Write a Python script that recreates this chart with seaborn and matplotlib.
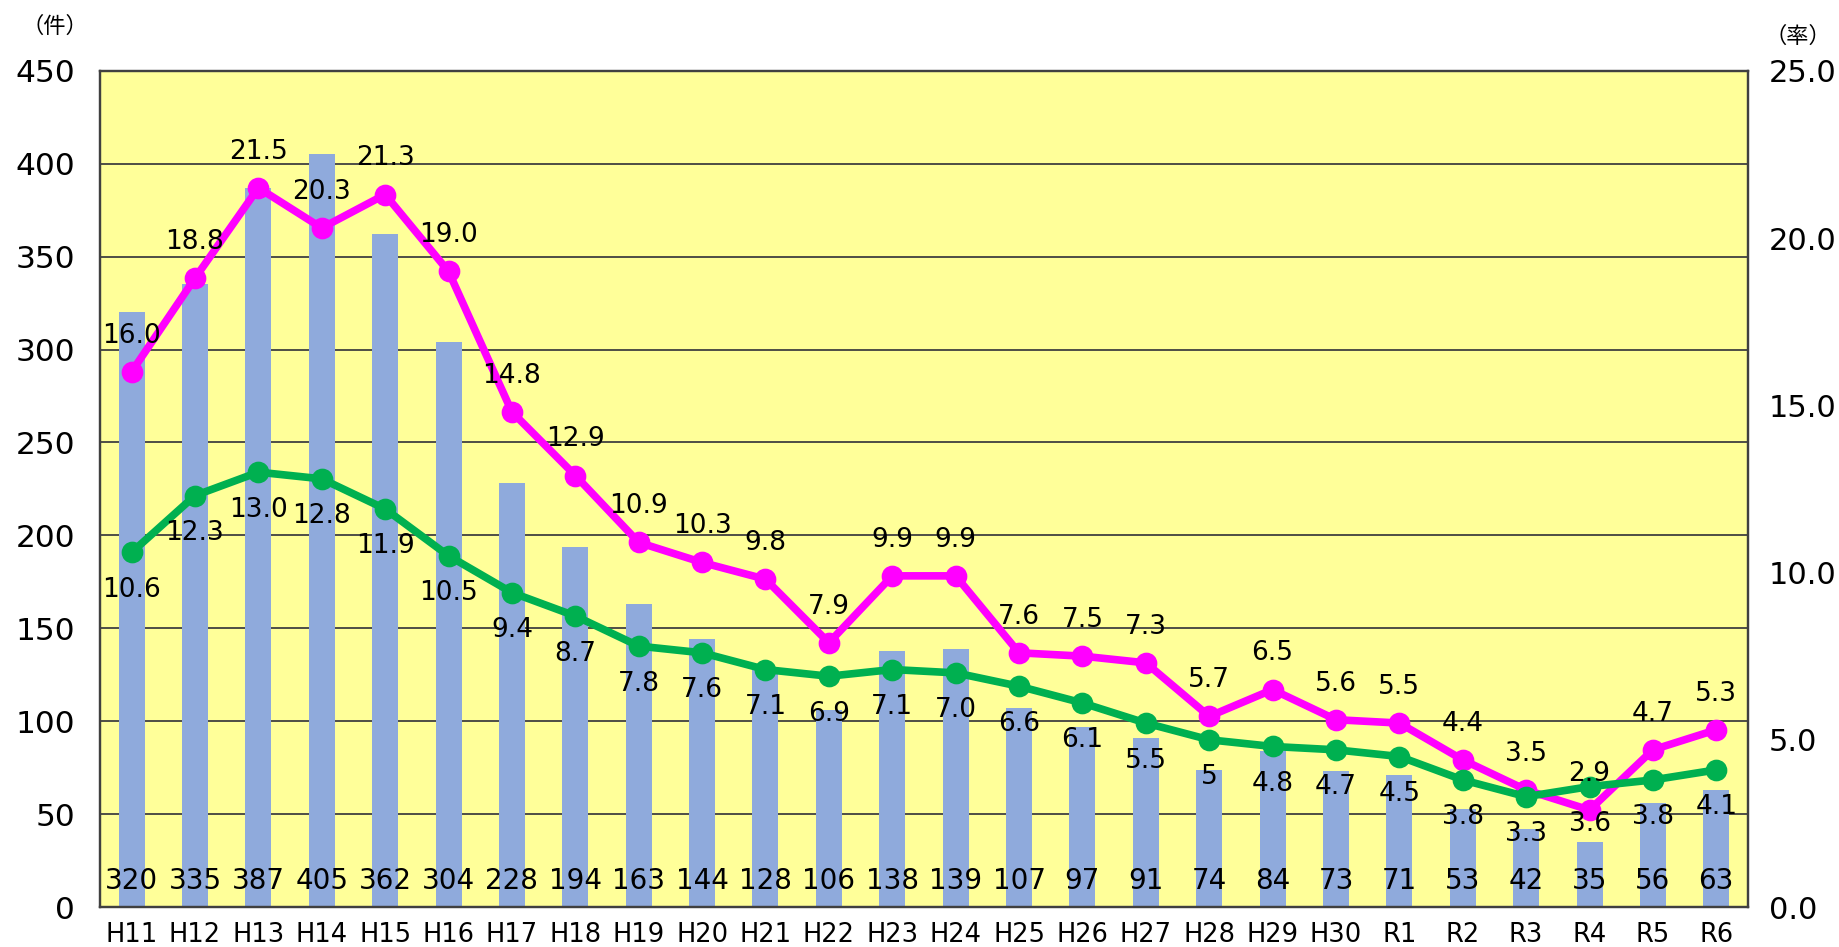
import matplotlib
matplotlib.use("Agg")
import matplotlib.pyplot as plt
import seaborn as sns
import pandas as pd

# ---- data ----
years = ['H11', 'H12', 'H13', 'H14', 'H15', 'H16', 'H17', 'H18', 'H19', 'H20',
         'H21', 'H22', 'H23', 'H24', 'H25', 'H26', 'H27', 'H28', 'H29', 'H30',
         'R1', 'R2', 'R3', 'R4', 'R5', 'R6']
counts = [320, 335, 387, 405, 362, 304, 228, 194, 163, 144, 128, 106, 138, 139,
          107, 97, 91, 74, 84, 73, 71, 53, 42, 35, 56, 63]
rate_pink = [16.0, 18.8, 21.5, 20.3, 21.3, 19.0, 14.8, 12.9, 10.9, 10.3, 9.8, 7.9,
             9.9, 9.9, 7.6, 7.5, 7.3, 5.7, 6.5, 5.6, 5.5, 4.4, 3.5, 2.9, 4.7, 5.3]
rate_green = [10.6, 12.3, 13.0, 12.8, 11.9, 10.5, 9.4, 8.7, 7.8, 7.6, 7.1, 6.9,
              7.1, 7.0, 6.6, 6.1, 5.5, 5, 4.8, 4.7, 4.5, 3.8, 3.3, 3.6, 3.8, 4.1]
green_labels = ['10.6', '12.3', '13.0', '12.8', '11.9', '10.5', '9.4', '8.7', '7.8',
                '7.6', '7.1', '6.9', '7.1', '7.0', '6.6', '6.1', '5.5', '5', '4.8',
                '4.7', '4.5', '3.8', '3.3', '3.6', '3.8', '4.1']

df = pd.DataFrame({'year': years, 'count': counts,
                   'pink': rate_pink, 'green': rate_green})

# ---- style ----
sns.set_style("white")
plt.rcParams['font.family'] = ['DejaVu Sans', 'Noto Sans CJK JP']
plt.rcParams['text.color'] = 'black'
plt.rcParams['xtick.color'] = 'black'
plt.rcParams['ytick.color'] = 'black'

YELLOW = '#FFFF99'
BAR = '#8FAADC'
PINK = '#FF00FF'
GREEN = '#00B050'
DARK = '#404040'

fig, ax = plt.subplots(figsize=(18.4, 9.47), dpi=100)
fig.subplots_adjust(left=0.0543, right=0.95, top=0.9253, bottom=0.0422)

ax.set_facecolor(YELLOW)
ax.set_axisbelow(True)
ax.yaxis.grid(True, color=DARK, linewidth=1.3)

sns.barplot(data=df, x='year', y='count', color=BAR, width=0.41,
            saturation=1, linewidth=0, edgecolor='none', ax=ax)
ax.set_ylim(0, 450)
ax.set_yticks(range(0, 451, 50))
ax.set_xlim(-0.5, len(years) - 0.5)
ax.set_xlabel('')
ax.set_ylabel('')

# count labels near the bottom of each bar
for i, v in enumerate(counts):
    ax.annotate(str(v), (i, 0), xytext=(0, 19), textcoords='offset points',
                ha='center', va='center', fontsize=20)

# ---- rates on the right axis ----
ax2 = ax.twinx()
sns.pointplot(data=df, x='year', y='pink', color=PINK, markers='o',
              markersize=11.5, linewidth=5.5, ax=ax2)
sns.pointplot(data=df, x='year', y='green', color=GREEN, markers='o',
              markersize=11.5, linewidth=5.5, ax=ax2)
ax2.set_ylim(0, 25)
ax2.set_yticks([0, 5, 10, 15, 20, 25])
ax2.set_yticklabels([f'{t:.1f}' for t in [0, 5, 10, 15, 20, 25]])
ax2.set_xlim(-0.5, len(years) - 0.5)
ax2.set_xlabel('')
ax2.set_ylabel('')
ax2.grid(False)

for i, v in enumerate(rate_pink):
    ax2.annotate(f'{v:.1f}', (i, v), xytext=(0, 26), textcoords='offset points',
                 ha='center', va='center', fontsize=19)
for i, v in enumerate(rate_green):
    ax2.annotate(green_labels[i], (i, v), xytext=(0, -27), textcoords='offset points',
                 ha='center', va='center', fontsize=19)

# ---- axes cosmetics ----
for a in (ax, ax2):
    for s in a.spines.values():
        s.set_color(DARK)
        s.set_linewidth(1.6)
ax.tick_params(axis='y', length=0, pad=18, labelsize=22.5)
ax.tick_params(axis='x', length=0, pad=11, labelsize=18.5)
ax2.tick_params(axis='y', length=0, pad=15, labelsize=22)
ax2.tick_params(axis='x', length=0)

fig.text(0.03, 0.972, '（件）', ha='center', va='center', fontsize=16,
         family=['Noto Sans CJK JP'])
fig.text(0.977, 0.962, '（率）', ha='center', va='center', fontsize=16,
         family=['Noto Sans CJK JP'])

fig.savefig('out.png', dpi=100)
